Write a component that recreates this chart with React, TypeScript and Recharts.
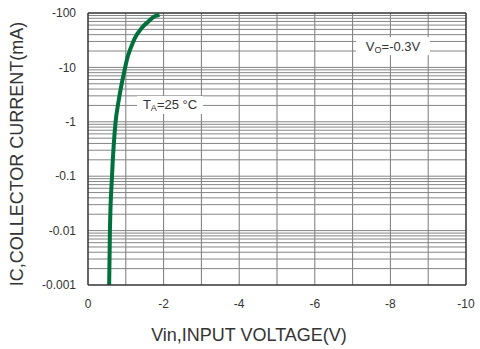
import { LineChart, Line, XAxis, YAxis, ReferenceLine, ReferenceDot } from "recharts";

// input voltage magnitude (V, drawn as negative) vs collector current magnitude (mA)
const vin = [0.56, 0.58, 0.635, 0.73, 0.8, 0.87, 0.98, 1.04, 1.13, 1.24, 1.42, 1.6, 1.77, 1.89];
const ic = [0.001, 0.01, 0.1, 1, 2.2, 4.2, 9.75, 14.9, 22.7, 34.7, 53, 70, 87, 93];

const xTicks = [0, 2, 4, 6, 8, 10];
const xGrid = [1, 2, 3, 4, 5, 6, 7, 8, 9];
const yTicks = [0.001, 0.01, 0.1, 1, 10, 100];
const minorSteps = [2, 3, 4, 5, 6, 7, 8, 9];

const data = vin.map((v, k) => ({ v, i: ic[k] }));
const yGrid = [
  ...yTicks.slice(1, -1),
  ...yTicks.slice(0, -1).flatMap((d) => minorSteps.map((m) => +(d * m).toPrecision(3))),
];

const FONT = "'Liberation Sans', Arial, sans-serif";
const GRID_V = "#7a7a7a";
const GRID_H = "#858585";
const AXIS = "#333";

const fmtX = (v: number) => (v === 0 ? "0" : `-${v}`);
const fmtY = (v: number) => `-${v}`;

const BoxLabel = ({ cx, cy, w, main, sub, rest }: any) => (
  <g>
    <rect x={cx - w / 2} y={cy - 9} width={w} height={18} fill="#fff" />
    <text x={cx} y={cy + 4.5} textAnchor="middle" fontFamily={FONT} fontSize={13} fill="#333">
      {main}
      <tspan fontSize={9} dy={2}>{sub}</tspan>
      <tspan dy={-2}>{rest}</tspan>
    </text>
  </g>
);

export default function App() {
  return (
    <div style={{ position: "absolute", left: 0, top: 0, background: "#fff" }}>
      <LineChart
        width={480}
        height={349}
        data={data}
        margin={{ top: 13, right: 14, left: 0, bottom: 0 }}
      >
        <XAxis
          dataKey="v"
          type="number"
          domain={[0, 10]}
          ticks={xTicks}
          tickFormatter={fmtX}
          allowDataOverflow
          height={64}
          tickLine={false}
          axisLine={{ stroke: AXIS, strokeWidth: 1.5 }}
          tick={{ fill: "#333", fontSize: 12, fontFamily: FONT }}
          tickMargin={8}
          label={{
            value: "Vin,INPUT VOLTAGE(V)",
            content: () => (
              <text x={249} y={341} textAnchor="middle" fontFamily={FONT} fontSize={18} fill="#333">
                Vin,INPUT VOLTAGE(V)
              </text>
            ),
          }}
        />
        <YAxis
          scale="log"
          type="number"
          domain={[0.001, 100]}
          ticks={yTicks}
          tickFormatter={fmtY}
          allowDataOverflow
          width={88}
          tickLine={false}
          axisLine={{ stroke: AXIS, strokeWidth: 1.5 }}
          tick={{ fill: "#333", fontSize: 12, fontFamily: FONT }}
          tickMargin={6}
          label={{
            value: "IC,COLLECTOR CURRENT(mA)",
            content: () => (
              <text
                x={23}
                y={154}
                textAnchor="middle"
                transform="rotate(-90 23 154)"
                fontFamily={FONT}
                fontSize={18}
                fill="#333"
              >
                IC,COLLECTOR CURRENT(mA)
              </text>
            ),
          }}
        />
        {xGrid.map((x) => (
          <ReferenceLine key={`x${x}`} x={x} stroke={GRID_V} strokeWidth={1} />
        ))}
        {yGrid.map((y) => (
          <ReferenceLine key={`y${y}`} y={y} stroke={GRID_H} strokeWidth={1} />
        ))}
        <ReferenceLine y={100} stroke={AXIS} strokeWidth={1.5} />
        <ReferenceLine x={10} stroke={AXIS} strokeWidth={1.5} />
        <ReferenceDot
          x={2.17}
          y={2.04}
          r={0}
          shape={(p: any) => <BoxLabel cx={p.cx} cy={p.cy} w={66} main="T" sub="A" rest="=25 °C" />}
        />
        <ReferenceDot
          x={8.07}
          y={24.6}
          r={0}
          shape={(p: any) => <BoxLabel cx={p.cx} cy={p.cy} w={74} main="V" sub="O" rest="=-0.3V" />}
        />
        <Line
          type="monotone"
          dataKey="i"
          stroke="#00703c"
          strokeWidth={4}
          dot={false}
          isAnimationActive={false}
        />
      </LineChart>
    </div>
  );
}
